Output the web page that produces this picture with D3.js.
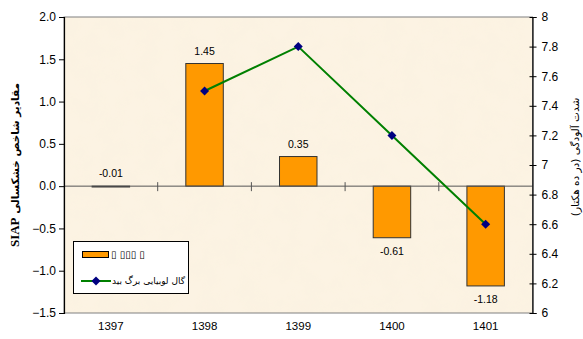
<!DOCTYPE html>
<html>
<head>
<meta charset="utf-8">
<script src="https://cdn.jsdelivr.net/npm/d3@7"></script>
<style>
  html, body { margin: 0; padding: 0; background: #ffffff; }
  svg { display: block; }
</style>
</head>
<body>
<svg id="chart" width="583" height="339"></svg>
<script>
// Years along the category axis
const years = ["1397", "1398", "1399", "1400", "1401"];
// SIAP drought index per year (bars, left axis)
const siapValues = [-0.01, 1.45, 0.35, -0.61, -1.18];
// Willow-leaf bean gall infestation intensity (line, right axis); no value for 1397
const gallValues = [null, 7.5, 7.8, 7.2, 6.6];
// Tick labels
const leftTicks = [2.0, 1.5, 1.0, 0.5, 0.0, -0.5, -1.0, -1.5];
const rightTicks = [8, 7.8, 7.6, 7.4, 7.2, 7, 6.8, 6.6, 6.4, 6.2, 6];
// Legend entries
const barLegendLabel = "▯ ▯▯▯ ▯";
const lineLegendLabel = "گال لوبیایی برگ بید";
const leftTitle = "مقادیر شاخص خشکسالی ";
const leftTitleLatin = "SIAP";
const rightTitle = "شدت آلودگی (در ده هکتار)";

const svg = d3.select("#chart");
const plot = { left: 64, right: 532.5, top: 17, bottom: 313 };

const x = d3.scaleBand().domain(years).range([plot.left, plot.right]).paddingInner(0).paddingOuter(0);
const yL = d3.scaleLinear().domain([-1.5, 2.0]).range([plot.bottom, plot.top]);
const yR = d3.scaleLinear().domain([6, 8]).range([plot.bottom, plot.top]);

// Parchment-like plot background
const defs = svg.append("defs");
const f = defs.append("filter").attr("id", "paper").attr("x", 0).attr("y", 0).attr("width", 1).attr("height", 1);
f.append("feTurbulence").attr("type", "fractalNoise").attr("baseFrequency", 0.05).attr("numOctaves", 3).attr("seed", 4).attr("result", "noise");
f.append("feColorMatrix").attr("in", "noise").attr("type", "matrix")
  .attr("values", "0 0 0 0 0.93  0 0 0 0 0.85  0 0 0 0 0.70  0 0 0 0.3 -0.08").attr("result", "tint");
f.append("feComposite").attr("in", "tint").attr("in2", "SourceGraphic").attr("operator", "in");

svg.append("rect")
  .attr("x", plot.left).attr("y", plot.top)
  .attr("width", plot.right - plot.left).attr("height", plot.bottom - plot.top)
  .attr("fill", "#fcf3e3");
svg.append("rect")
  .attr("x", plot.left).attr("y", plot.top)
  .attr("width", plot.right - plot.left).attr("height", plot.bottom - plot.top)
  .attr("fill", "#fff").attr("filter", "url(#paper)");
svg.append("rect")
  .attr("x", plot.left).attr("y", plot.top)
  .attr("width", plot.right - plot.left).attr("height", plot.bottom - plot.top)
  .attr("fill", "none").attr("stroke", "#808080").attr("stroke-width", 1);

// Bars
const barW = x.bandwidth() * 0.4;
svg.append("g").selectAll("rect")
  .data(years.map((d, i) => ({ year: d, v: siapValues[i] })))
  .join("rect")
  .attr("x", d => x(d.year) + (x.bandwidth() - barW) / 2)
  .attr("y", d => yL(Math.max(0, d.v)))
  .attr("width", barW)
  .attr("height", d => Math.abs(yL(d.v) - yL(0)))
  .attr("fill", "#ff9900")
  .attr("stroke", "#333333")
  .attr("stroke-width", 1);

// Zero line (category axis)
svg.append("line")
  .attr("x1", plot.left).attr("x2", plot.right)
  .attr("y1", yL(0)).attr("y2", yL(0))
  .attr("stroke", "#555555").attr("stroke-width", 1);
// Category tick marks crossing the zero line
svg.append("g").selectAll("line")
  .data(years.slice(1))
  .join("line")
  .attr("x1", d => x(d)).attr("x2", d => x(d))
  .attr("y1", yL(0) - 4).attr("y2", yL(0) + 5)
  .attr("stroke", "#555555").attr("stroke-width", 1);

// Bar value labels
svg.append("g").selectAll("text")
  .data(years.map((d, i) => ({ year: d, v: siapValues[i] })))
  .join("text")
  .attr("x", d => x(d.year) + x.bandwidth() / 2)
  .attr("y", d => d.v >= 0 ? yL(d.v) - 9 : (Math.abs(yL(d.v) - yL(0)) < 3 ? yL(0) - 9 : yL(d.v) + 17))
  .attr("text-anchor", "middle")
  .attr("font-family", "Liberation Sans, Arial, sans-serif")
  .attr("font-size", 10.5)
  .attr("fill", "#000")
  .text(d => d.v.toFixed(2));

// Line series on right axis
const linePts = years.map((d, i) => ({ year: d, v: gallValues[i] })).filter(d => d.v !== null);
const line = d3.line().x(d => x(d.year) + x.bandwidth() / 2).y(d => yR(d.v));
svg.append("path")
  .datum(linePts)
  .attr("d", line)
  .attr("fill", "none")
  .attr("stroke", "#008000")
  .attr("stroke-width", 2);
const diamond = d3.symbol().type(d3.symbolDiamond2).size(52);
svg.append("g").selectAll("path")
  .data(linePts)
  .join("path")
  .attr("d", diamond)
  .attr("transform", d => `translate(${x(d.year) + x.bandwidth() / 2},${yR(d.v)})`)
  .attr("fill", "#000080");

// Left axis
const axL = svg.append("g").attr("transform", `translate(${plot.left},0)`)
  .call(d3.axisLeft(yL).tickValues(leftTicks).tickSize(5).tickPadding(3).tickFormat(d3.format(".1f")));
axL.select(".domain").attr("stroke", "#000").attr("stroke-width", 1.2);
axL.selectAll(".tick line").attr("stroke", "#000");
axL.selectAll("text").attr("font-family", "Liberation Sans, Arial, sans-serif").attr("font-size", 12).attr("fill", "#000");

// Right axis with crossing ticks
const axR = svg.append("g").attr("transform", `translate(${plot.right},0)`)
  .call(d3.axisRight(yR).tickValues(rightTicks).tickSize(4).tickPadding(5).tickFormat(d => String(d)));
axR.select(".domain").attr("stroke", "#000").attr("stroke-width", 1.2);
axR.selectAll(".tick line").attr("x1", -3).attr("stroke", "#000");
axR.selectAll("text").attr("font-family", "Liberation Sans, Arial, sans-serif").attr("font-size", 12).attr("fill", "#000");

// Category labels
svg.append("g").selectAll("text")
  .data(years)
  .join("text")
  .attr("x", d => x(d) + x.bandwidth() / 2)
  .attr("y", 330)
  .attr("text-anchor", "middle")
  .attr("font-family", "Liberation Sans, Arial, sans-serif")
  .attr("font-size", 11.5)
  .attr("fill", "#000")
  .text(d => d);

// Left axis title
const lt = svg.append("text")
  .attr("transform", "translate(19,165) rotate(-90)")
  .attr("text-anchor", "middle")
  .attr("direction", "rtl")
  .attr("font-family", "DejaVu Sans, sans-serif")
  .attr("font-size", 10.5)
  .attr("font-weight", "bold")
  .attr("fill", "#000");
lt.append("tspan").text(leftTitle);
lt.append("tspan").attr("font-family", "Liberation Serif, Times New Roman, serif").attr("font-size", 13).text(leftTitleLatin);

// Right axis title
svg.append("text")
  .attr("transform", "translate(579,157) rotate(-90)")
  .attr("text-anchor", "middle")
  .attr("direction", "rtl")
  .attr("font-family", "DejaVu Sans, sans-serif")
  .attr("font-size", 10.5)
  .attr("fill", "#000")
  .text(rightTitle);

// Legend
const lg = svg.append("g");
lg.append("rect").attr("x", 73.5).attr("y", 241.5).attr("width", 115).attr("height", 52)
  .attr("fill", "#ffffff").attr("stroke", "#000").attr("stroke-width", 1);
lg.append("rect").attr("x", 82.5).attr("y", 251.5).attr("width", 26).attr("height", 6)
  .attr("fill", "#ff9900").attr("stroke", "#000").attr("stroke-width", 1);
lg.append("text").attr("x", 111).attr("y", 258)
  .attr("font-family", "DejaVu Sans, sans-serif").attr("font-size", 10).attr("fill", "#000")
  .text(barLegendLabel);
lg.append("line").attr("x1", 81).attr("x2", 111).attr("y1", 281).attr("y2", 281)
  .attr("stroke", "#008000").attr("stroke-width", 2);
lg.append("path").attr("d", diamond).attr("transform", "translate(96,281)").attr("fill", "#000080");
lg.append("text").attr("x", 185).attr("y", 284)
  .attr("text-anchor", "start")
  .attr("direction", "rtl")
  .attr("font-family", "DejaVu Sans, sans-serif").attr("font-size", 9).attr("fill", "#000")
  .text(lineLegendLabel);
</script>
</body>
</html>
